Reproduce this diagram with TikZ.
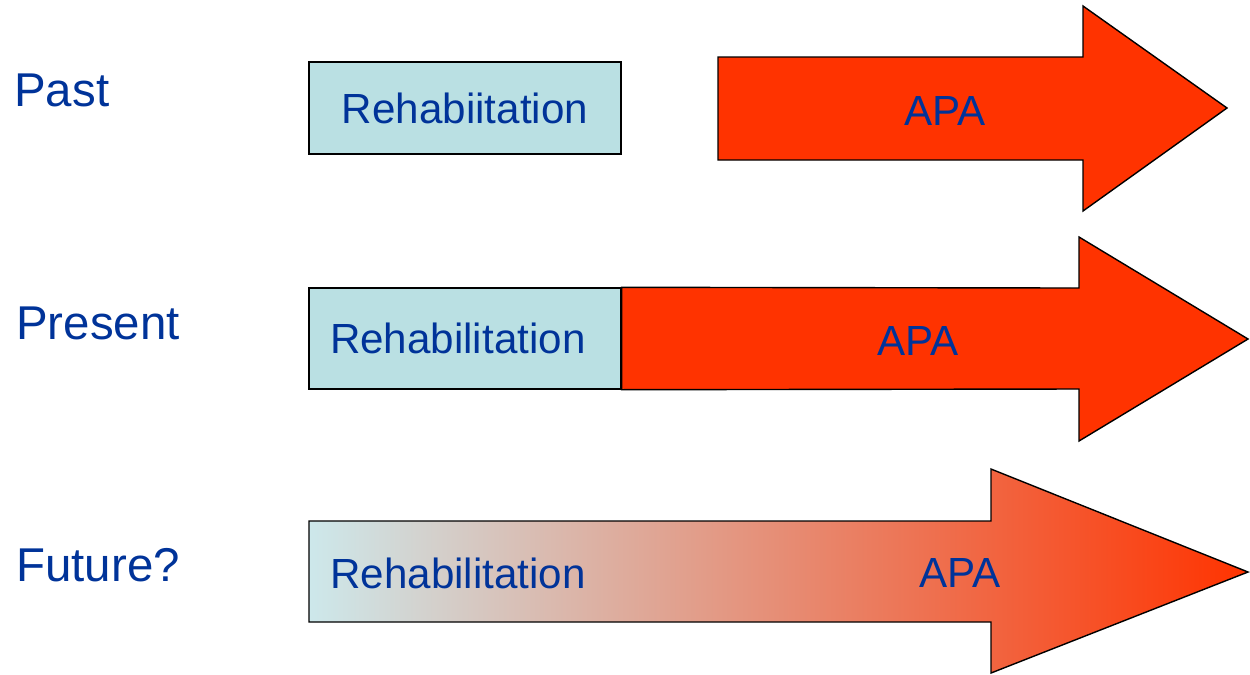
\documentclass[tikz,border=0pt]{standalone}
\usepackage{fontspec}
\setmainfont{Liberation Sans}
\definecolor{txtblue}{RGB}{0,51,153}
\definecolor{rehabfill}{RGB}{186,224,227}
\definecolor{apared}{RGB}{255,51,0}
\definecolor{fadecyan}{RGB}{205,232,235}
\definecolor{fademid}{RGB}{222,166,150}
\newcommand{\lbl}{\fontsize{27}{32}\selectfont}
\newcommand{\inner}{\fontsize{24}{28}\selectfont}
\tikzset{
  era/.style={anchor=west,inner sep=0pt,text=txtblue,font=\lbl},
  rehab/.style={draw=black,line width=0.8pt,fill=rehabfill,text=txtblue,font=\inner,minimum width=6.24cm,inner sep=0pt},
  arrowbody/.style={draw=black,line width=0.8pt,line join=miter},
  intext/.style={text=txtblue,font=\inner,inner sep=0pt}
}
\begin{document}
\begin{tikzpicture}[x=0.02cm,y=-0.02cm]
  \useasboundingbox (0,0) rectangle (1250,674);
  % time labels
  \node[era] (past) at (14,90) {Past};
  \node[era] (present) at (16,323) {Present};
  \node[era] (future) at (16,565) {Future?};
  % past
  \node[rehab,minimum height=1.84cm] (box1) at (465,108) {Rehabiitation};
  \draw[arrowbody,fill=apared] (718,57) -- (1083,57) -- (1083,6) -- (1227,108) -- (1083,211) -- (1083,160) -- (718,160) -- cycle;
  \node[intext] (apa1) at (945,111) {APA};
  % present
  \node[rehab,minimum height=2.02cm,inner xsep=0.42cm,text width=5.4cm,align=left] (box2) at (465,338.5) {Rehabilitation};
  \draw[arrowbody,fill=apared] (box2.north east) -- (1079,288) -- (1079,237) -- (1248,339) -- (1079,441) -- (1079,389) -- (box2.south east) -- cycle;
  \node[intext] (apa2) at (918,341) {APA};
  % future
  \draw[arrowbody,left color=fadecyan,middle color=fademid,right color=apared] (309,521) -- (991,521) -- (991,469) -- (1248,572) -- (991,673) -- (991,622) -- (309,622) -- cycle;
  \node[intext,anchor=west] (rehab3) at (330,573) {Rehabilitation};
  \node[intext] (apa3) at (960,573) {APA};
\end{tikzpicture}
\end{document}
